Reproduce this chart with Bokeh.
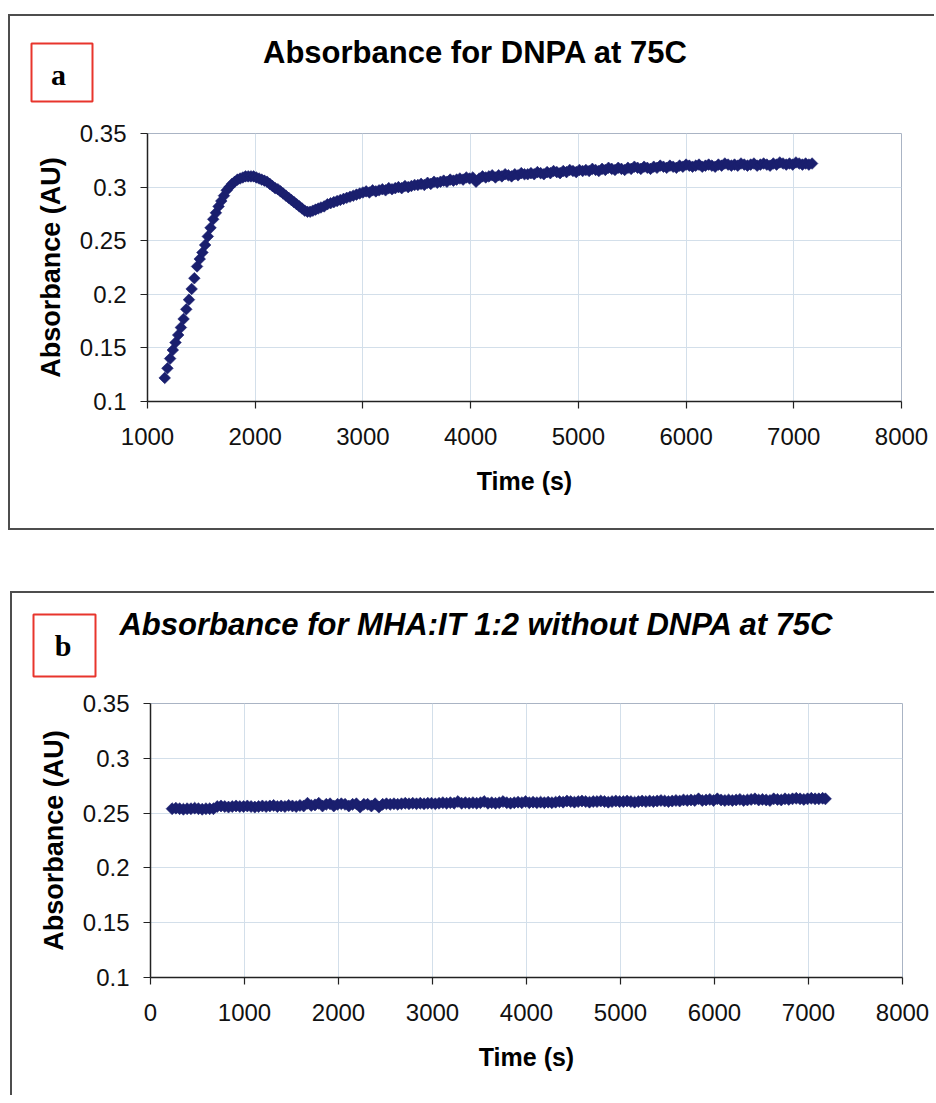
import math
from bokeh.plotting import figure
from bokeh.models import FixedTicker, ColumnDataSource, Range1d, Spacer
from bokeh.layouts import column, row
from bokeh.embed import file_html
from bokeh.resources import INLINE
from bokeh.core.properties import value

# ---------------- data ----------------
time_a = [1160, 1185, 1210, 1235, 1260, 1285, 1310, 1335, 1360, 1385, 1410, 1435, 1460, 1485,
          1510, 1535, 1560, 1585, 1610, 1635, 1660, 1685, 1710, 1735, 1760, 1785, 1810, 1835,
          1860, 1885, 1910, 1935, 1960, 1985, 2010, 2035, 2060, 2085, 2110, 2135, 2160, 2185,
          2210, 2235, 2260, 2285, 2310, 2335, 2360, 2385, 2410, 2435, 2460, 2485, 2510, 2535,
          2560, 2585, 2610, 2640, 2670, 2700, 2730, 2760, 2790, 2820, 2850, 2880, 2910, 2940,
          2970,
          3000, 3030, 3060, 3090, 3120, 3150, 3180, 3210, 3240, 3270, 3300, 3330, 3360, 3390,
          3420, 3450, 3480, 3510, 3540, 3570, 3600, 3630, 3660, 3690, 3720, 3750, 3780, 3810,
          3840, 3870, 3900, 3930, 3960, 3990, 4020, 4050, 4080, 4110, 4140, 4170, 4200, 4230,
          4260, 4290, 4320, 4350, 4380, 4410, 4440, 4470, 4500, 4530, 4560, 4590, 4620, 4650,
          4680, 4710, 4740, 4770, 4800, 4830, 4860, 4890, 4920, 4950, 4980, 5010, 5040, 5070,
          5100, 5130, 5160, 5190, 5220, 5250, 5280, 5310, 5340, 5370, 5400, 5430, 5460, 5490,
          5520, 5550, 5580, 5610, 5640, 5670, 5700, 5730, 5760, 5790, 5820, 5850, 5880, 5910,
          5940, 5970, 6000, 6030, 6060, 6090, 6120, 6150, 6180, 6210, 6240, 6270, 6300, 6330,
          6360, 6390, 6420, 6450, 6480, 6510, 6540, 6570, 6600, 6630, 6660, 6690, 6720, 6750,
          6780, 6810, 6840, 6870, 6900, 6930, 6960, 6990, 7020, 7050, 7080, 7110, 7140, 7170]
abs_a = [0.122, 0.131, 0.140, 0.148, 0.155, 0.162, 0.169, 0.177, 0.186, 0.195, 0.205, 0.215,
         0.226, 0.233, 0.239, 0.246, 0.254, 0.262, 0.270, 0.276, 0.282, 0.287, 0.292, 0.297,
         0.300, 0.303, 0.305, 0.307, 0.308, 0.309, 0.310, 0.310, 0.310, 0.310, 0.309, 0.308,
         0.307, 0.306, 0.305, 0.303, 0.301, 0.299, 0.298, 0.296, 0.294, 0.292, 0.290, 0.288,
         0.286, 0.284, 0.282, 0.280, 0.278, 0.277, 0.277, 0.278, 0.279, 0.280, 0.281, 0.282,
         0.284, 0.285, 0.286, 0.287, 0.288, 0.289, 0.290, 0.291, 0.292, 0.293, 0.294,
         0.295, 0.296, 0.295, 0.297, 0.296, 0.297, 0.298, 0.297, 0.299, 0.298, 0.299, 0.300, 0.299, 0.301, 0.300, 0.301, 0.302,
         0.302, 0.303, 0.302, 0.304, 0.303, 0.305, 0.304, 0.305, 0.306, 0.305, 0.307, 0.306, 0.307, 0.308, 0.307, 0.309, 0.308,
         0.309, 0.305, 0.308, 0.310, 0.309, 0.310, 0.311, 0.309, 0.311, 0.310, 0.312, 0.311, 0.310, 0.312, 0.311, 0.313, 0.312,
         0.312, 0.313, 0.312, 0.314, 0.313, 0.312, 0.314, 0.313, 0.315, 0.314, 0.313, 0.315, 0.314, 0.316, 0.315, 0.314, 0.316,
         0.315, 0.316, 0.315, 0.317, 0.316, 0.315, 0.317, 0.316, 0.318, 0.317, 0.316, 0.318, 0.317, 0.316, 0.318, 0.317, 0.319,
         0.318, 0.317, 0.319, 0.318, 0.317, 0.319, 0.318, 0.320, 0.319, 0.318, 0.320, 0.319, 0.318, 0.320, 0.319, 0.321, 0.320,
         0.319, 0.320, 0.321, 0.319, 0.320, 0.321, 0.320, 0.319, 0.321, 0.320, 0.322, 0.321, 0.320, 0.321, 0.320, 0.322, 0.321,
         0.320, 0.321, 0.322, 0.320, 0.321, 0.322, 0.321, 0.320, 0.322, 0.321, 0.323, 0.322, 0.321, 0.322, 0.321, 0.323, 0.322,
         0.321, 0.322, 0.321, 0.322]

time_b = [230, 270, 310, 350, 390, 430, 470, 510, 550, 590, 630, 670, 710, 750, 790, 830, 870,
          910, 950, 990, 1030, 1070, 1110, 1150, 1190,
          1230, 1270, 1310, 1350, 1390, 1430, 1470, 1510, 1550, 1590, 1630, 1670, 1710, 1750, 1790,
          1830, 1870, 1910, 1950, 1990, 2030, 2070, 2110, 2150, 2190,
          2230, 2270, 2310, 2350, 2390, 2430, 2470, 2510, 2550, 2590, 2630, 2670, 2710, 2750, 2790,
          2830, 2870, 2910, 2950, 2990, 3030, 3070, 3110, 3150, 3190,
          3230, 3270, 3310, 3350, 3390, 3430, 3470, 3510, 3550, 3590, 3630, 3670, 3710, 3750, 3790,
          3830, 3870, 3910, 3950, 3990, 4030, 4070, 4110, 4150, 4190,
          4230, 4270, 4310, 4350, 4390, 4430, 4470, 4510, 4550, 4590, 4630, 4670, 4710, 4750, 4790,
          4830, 4870, 4910, 4950, 4990, 5030, 5070, 5110, 5150, 5190,
          5230, 5270, 5310, 5350, 5390, 5430, 5470, 5510, 5550, 5590, 5630, 5670, 5710, 5750, 5790,
          5830, 5870, 5910, 5950, 5990, 6030, 6070, 6110, 6150, 6190,
          6230, 6270, 6310, 6350, 6390, 6430, 6470, 6510, 6550, 6590, 6630, 6670, 6710, 6750, 6790,
          6830, 6870, 6910, 6950, 6990, 7030, 7070, 7110, 7150, 7180]
abs_b = [0.254, 0.2545, 0.254, 0.2535, 0.254, 0.254, 0.2545, 0.254, 0.2535, 0.254, 0.254, 0.254,
         0.256, 0.2565, 0.256, 0.2555, 0.256, 0.2565, 0.256, 0.256, 0.2565, 0.256, 0.2555, 0.256, 0.2565,
         0.256, 0.2565, 0.257, 0.256, 0.2565, 0.256, 0.257, 0.2565, 0.256, 0.257, 0.2565, 0.259, 0.257,
         0.2575, 0.259, 0.2565, 0.258, 0.2585, 0.2565, 0.258, 0.2585, 0.258, 0.2565, 0.258, 0.2585,
         0.2555, 0.258, 0.258, 0.2565, 0.2585, 0.2555, 0.258, 0.2585, 0.258, 0.2585, 0.258, 0.2585, 0.259,
         0.2585, 0.259, 0.2585, 0.259, 0.2585, 0.259, 0.259, 0.2585, 0.259, 0.2595, 0.259, 0.2595,
         0.259, 0.2605, 0.259, 0.2595, 0.259, 0.2595, 0.259, 0.2595, 0.2605, 0.259, 0.2595, 0.259, 0.2595,
         0.2605, 0.2595, 0.259, 0.2595, 0.260, 0.2595, 0.2605, 0.2595, 0.260, 0.2595, 0.260, 0.2595,
         0.260, 0.2595, 0.260, 0.2605, 0.260, 0.261, 0.2605, 0.260, 0.2605, 0.261, 0.2605, 0.260, 0.2605,
         0.2605, 0.261, 0.2605, 0.260, 0.2605, 0.261, 0.2605, 0.2605, 0.261, 0.2605, 0.260, 0.2605,
         0.261, 0.2605, 0.261, 0.2605, 0.261, 0.2615, 0.261, 0.2605, 0.261, 0.2615, 0.261, 0.262, 0.2615,
         0.262, 0.2615, 0.263, 0.2615, 0.262, 0.2625, 0.2615, 0.263, 0.262, 0.2615, 0.262, 0.2615,
         0.262, 0.2625, 0.2615, 0.262, 0.2625, 0.263, 0.262, 0.2625, 0.262, 0.2615, 0.263, 0.2625, 0.262,
         0.263, 0.2625, 0.263, 0.2635, 0.263, 0.2625, 0.263, 0.2635, 0.263, 0.263, 0.2635, 0.263]

x_ticks_a = [1000, 2000, 3000, 4000, 5000, 6000, 7000, 8000]
x_ticks_b = [0, 1000, 2000, 3000, 4000, 5000, 6000, 7000, 8000]
y_ticks = [0.1, 0.15, 0.2, 0.25, 0.3, 0.35]
y_tick_labels = ["0.1", "0.15", "0.2", "0.25", "0.3", "0.35"]
title_a = "Absorbance for DNPA at 75C"
title_b = "Absorbance for MHA:IT 1:2 without DNPA at 75C"
x_title = "Time (s)"
y_title = "Absorbance (AU)"
panel_letters = ["a", "b"]

# ---------------- styling ----------------
SANS = "Liberation Sans"
SERIF = "Liberation Serif"
NAVY = "#1a1f6e"
GRID = "#d3dfea"
RED = "#e8352c"
EDGE = "#4d4d4d"
W = 934


def blank(x0, x1, y0, y1):
    """A figure whose frame fills the whole canvas; its ranges are page pixels."""
    f = figure(width=x1 - x0, height=y1 - y0, x_range=Range1d(x0, x1), y_range=Range1d(y1, y0),
               output_backend="svg", toolbar_location=None, title=None,
               x_axis_location=None, y_axis_location=None, min_border=0)
    f.outline_line_color = None
    f.background_fill_color = "white"
    f.border_fill_color = "white"
    f.xgrid.visible = False
    f.ygrid.visible = False
    return f


def bar(width, height):
    """A solid strip used as an edge of the chart-area frame."""
    return Spacer(width=width, height=height, styles={"background-color": EDGE})


def gap(width, height):
    return Spacer(width=width, height=height)


def chart(xs, ys, x_ticks, width, height, bl, br, bt, bb, marker_size):
    p = figure(width=width, height=height, output_backend="svg", toolbar_location=None,
               title=None,
               x_range=(x_ticks[0], x_ticks[-1]), y_range=(y_ticks[0], y_ticks[-1]),
               min_border_left=bl, min_border_right=br, min_border_top=bt, min_border_bottom=bb)
    p.background_fill_color = "white"
    p.border_fill_color = "white"
    p.outline_line_color = "#aab4c4"
    p.outline_line_width = 1

    src = ColumnDataSource(dict(t=xs, a=ys))
    p.scatter("t", "a", source=src, marker="square", angle=math.pi / 4,
              size=marker_size, fill_color=NAVY, line_color=NAVY, line_width=0.6)

    for ax in (p.xaxis[0], p.yaxis[0]):
        ax.axis_line_color = "#222222"
        ax.axis_line_width = 1.5
        ax.major_tick_line_color = "#222222"
        ax.major_tick_line_width = 1.2
        ax.major_tick_in = 0
        ax.major_tick_out = 7
        ax.minor_tick_line_color = None
        ax.major_label_text_font = SANS
        ax.major_label_text_font_size = "24px"
        ax.major_label_text_color = "#111111"
        ax.axis_label_text_font = SANS
        ax.axis_label_text_font_style = "bold"
        ax.axis_label_text_color = "#000000"

    p.xaxis.ticker = FixedTicker(ticks=x_ticks)
    p.xaxis.major_label_standoff = 19
    p.xaxis.axis_label = x_title
    p.xaxis.axis_label_text_font_size = "25px"
    p.xaxis.axis_label_standoff = 19

    p.yaxis.ticker = FixedTicker(ticks=y_ticks)
    p.yaxis.major_label_overrides = {t: l for t, l in zip(y_ticks, y_tick_labels)}
    p.yaxis.major_label_standoff = 14
    p.yaxis.axis_label = y_title
    p.yaxis.axis_label_text_font_size = "27px"
    p.yaxis.axis_label_standoff = 11

    p.xgrid.ticker = FixedTicker(ticks=x_ticks)
    p.ygrid.ticker = FixedTicker(ticks=y_ticks)
    p.xgrid.grid_line_color = GRID
    p.ygrid.grid_line_color = GRID
    return p


def letter_box(f, box, letter, lx, ly):
    f.quad(left=[box[0]], right=[box[2]], top=[box[1]], bottom=[box[3]],
           fill_color=None, line_color=RED, line_width=2)
    f.text(x=[lx], y=[ly], text=[letter], text_font=value(SERIF), text_font_style="bold",
           text_font_size="30px", text_align="center", text_baseline="alphabetic",
           text_color="#000000")


def title_text(f, x, y, text, style):
    f.text(x=[x], y=[y], text=[text], text_font=value(SANS), text_font_style=style,
           text_font_size="31px", text_align="center", text_baseline="alphabetic",
           text_color="#000000")


# ---------- panel a : page rows 0..530 ----------
head_a = blank(10, W, 16, 118)
letter_box(head_a, (31, 43, 92, 101), panel_letters[0], 58, 74)
title_text(head_a, 475, 52, title_a, "bold")
chart_a = chart(time_a, abs_a, x_ticks_a, W - 10, 410, 147 - 10, W - 901, 133 - 118, 528 - 401, 8.2)

panel_a = column(
    gap(W, 14),
    row(gap(8, 2), bar(W - 8, 2), spacing=0),
    row(gap(8, 102), bar(2, 102), head_a, spacing=0),
    row(gap(8, 410), bar(2, 410), chart_a, spacing=0),
    row(gap(8, 2), bar(W - 8, 2), spacing=0),
    spacing=0)

# ---------- panel b : page rows 530..1095 ----------
head_b = blank(12, W, 593, 690)
letter_box(head_b, (33, 614, 95, 676), panel_letters[1], 62.5, 645)
title_text(head_b, 476, 624, title_b, "bold italic")
chart_b = chart(time_b, abs_b, x_ticks_b, W - 12, 405, 150 - 12, W - 902, 703 - 690, 1095 - 977, 8.5)

panel_b = column(
    gap(W, 61),
    row(gap(10, 2), bar(W - 10, 2), spacing=0),
    row(gap(10, 97), bar(2, 97), head_b, spacing=0),
    row(gap(10, 405), bar(2, 405), chart_b, spacing=0),
    spacing=0)

layout = column(panel_a, panel_b, spacing=0)
open("out.html", "w").write(file_html(layout, INLINE))
